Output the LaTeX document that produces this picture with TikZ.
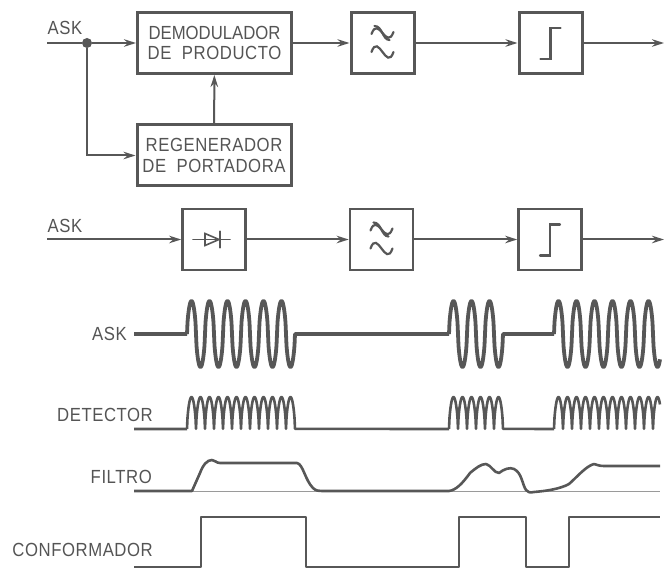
\documentclass[tikz,border=0pt]{standalone}
\usepackage{fontspec}
\setmainfont[FakeStretch=0.88]{Liberation Sans}
\usepackage{tikz}
\usepackage{xcolor}
\usetikzlibrary{arrows.meta}
\definecolor{ink}{gray}{0.34}
\definecolor{labelink}{gray}{0.33}
\newcommand{\wideletters}{\addfontfeature{LetterSpace=3}}
\tikzset{
    blockbox/.style={draw=ink, line width=3pt, minimum width=63pt, minimum height=61pt, inner sep=0pt, text=labelink, align=center, font=\fontsize{19}{20.5}\selectfont},
    widebox/.style={blockbox, minimum width=154pt},
    thinbox/.style={blockbox, line width=2.6pt},
    siglabel/.style={text=labelink, inner sep=0pt, font=\fontsize{19}{20}\selectfont\wideletters},
    wire/.style={draw=ink, line width=2pt},
    arrowwire/.style={wire, -{Stealth[length=12pt, width=7.5pt]}},
    glyph/.style={draw=ink, line width=2.2pt, line cap=round},
    trace/.style={draw=ink, line width=2.6pt, line join=round},
    declare function={
        carrier(\t)=sin(20*\t)*pow(abs(sin(20*\t))+0.0001,-0.4);
        rectified(\t)=pow(abs(sin(20*\t))+0.0001,0.6);
    }
}

\begin{document}
\begin{tikzpicture}[x=1pt, y=-1pt]
    \useasboundingbox (0,0) rectangle (664,569);

    \node[widebox] (demod) at (214.5,43) {DEMODULADOR\\{\wideletters DE\ \ PRODUCTO}};
    \node[widebox] (regen) at (214,155.5) {{\wideletters REGENERADOR}\\{\wideletters DE\ \ PORTADORA}};
    \node[blockbox] (filterA) at (382.5,43) {};
    \node[blockbox] (compA) at (550.5,43) {};

    \node[thinbox] (diode) at (214,239.5) {};
    \node[thinbox] (filterB) at (381.5,239.5) {};
    \node[thinbox] (compB) at (550,239.5) {};

    \node[siglabel] (askA) at (65,28) {ASK};
    \node[siglabel] (askB) at (65,226) {ASK};
    \node[siglabel, anchor=east] (askC) at (127,334) {ASK};
    \node[siglabel, anchor=east] (detector) at (153,415) {DETECTOR};
    \node[siglabel, anchor=east] (filtro) at (152,477) {FILTRO};
    \node[siglabel, anchor=east] (conformador) at (153,550) {CONFORMADOR};

    \coordinate (inA) at (47,43);
    \coordinate (inB) at (47,239.5);
    \coordinate (outA) at (664,43);
    \coordinate (outB) at (664,239.5);
    \node[circle, fill=ink, inner sep=0pt, minimum size=10pt] (split) at (87,43) {};

    \draw[wire] (inA) -- (split);
    \draw[arrowwire] (split) -- (demod);
    \draw[arrowwire] (split) |- (regen);
    \draw[arrowwire] (regen) -- (demod);
    \draw[arrowwire] (demod) -- (filterA);
    \draw[arrowwire] (filterA) -- (compA);
    \draw[arrowwire] (compA) -- (outA);

    \draw[arrowwire] (inB) -- (diode);
    \draw[arrowwire] (diode) -- (filterB);
    \draw[arrowwire] (filterB) -- (compB);
    \draw[arrowwire] (compB) -- (outB);

    \draw[glyph, line width=1.6pt] ([xshift=-21pt]diode.center) -- ([xshift=16pt]diode.center);
    \draw[glyph, line width=1.6pt] ([shift={(-9,-6)}]diode.center) -- ([shift={(5,0)}]diode.center) -- ([shift={(-9,6)}]diode.center) -- cycle;
    \draw[glyph, line width=2.2pt] ([shift={(6,-8)}]diode.center) -- ([shift={(6,8)}]diode.center);

    \foreach \f in {filterA,filterB} {
        \draw[glyph] ([shift={(-11,-9)}]\f.center) .. controls ([shift={(-4,-28)}]\f.center) and ([shift={(4,8)}]\f.center) .. ([shift={(11,-11)}]\f.center);
        \draw[glyph] ([shift={(-8,-17)}]\f.center) .. controls ([shift={(0,-17)}]\f.center) and ([shift={(0,-3)}]\f.center) .. ([shift={(7,-3)}]\f.center);
        \draw[glyph] ([shift={(-11,9)}]\f.center) .. controls ([shift={(-4,-11)}]\f.center) and ([shift={(4,29)}]\f.center) .. ([shift={(11,9)}]\f.center);
    }
    \foreach \c in {compA,compB} {
        \draw[glyph] ([shift={(-10,16)}]\c.center) -- ([shift={(0,16)}]\c.center) -- ([shift={(0,-15)}]\c.center) -- ([shift={(10,-15)}]\c.center);
    }

    \draw[trace, line width=3.8pt] (134,334) -- (187,334)
        plot[domain=187:295, samples=217] (\x,{334-33*carrier(\x-187)})
        -- (449,334)
        plot[domain=449:503, samples=109] (\x,{334-33*carrier(\x-449)})
        -- (554,334)
        plot[domain=554:660, samples=213] (\x,{334-33*carrier(\x-554)});

    \draw[trace] (134,429) -- (187,429)
        plot[domain=187:295, samples=217] (\x,{429-32*rectified(\x-187)})
        -- (449,429)
        plot[domain=449:503, samples=109] (\x,{429-32*rectified(\x-449)})
        -- (554,429)
        plot[domain=554:660, samples=213] (\x,{429-32*rectified(\x-554)});

    \draw[draw=ink!60, line width=0.8pt] (134,491.5) -- (660,491.5);
    \draw[trace] (134,491) -- (192,491) -- (200,473)
        .. controls (203,465) and (207,460) .. (212,460)
        .. controls (215,460) and (216,463) .. (220,463) -- (297,463)
        .. controls (303,464) and (305,480) .. (313,488)
        .. controls (316,491) and (319,491) .. (322,491) -- (449,491)
        .. controls (456,490) and (462,484) .. (470,473)
        .. controls (476,468) and (481,464) .. (486,464)
        .. controls (491,465) and (494,473) .. (499,473)
        .. controls (504,469) and (510,467) .. (514,469)
        .. controls (522,473) and (522,484) .. (526,490)
        .. controls (527,492) and (530,493) .. (534,492)
        .. controls (546,491) and (560,489) .. (569,484)
        .. controls (576,478) and (586,466) .. (594,464)
        .. controls (597,465) and (600,466) .. (604,466) -- (660,466);

    \draw[trace] (134,567) -- (201,567) -- (201,517) -- (306,517) -- (306,567) -- (459,567) -- (459,517) -- (526,517) -- (526,567) -- (569,567) -- (569,517) -- (660,517);
\end{tikzpicture}
\end{document}
